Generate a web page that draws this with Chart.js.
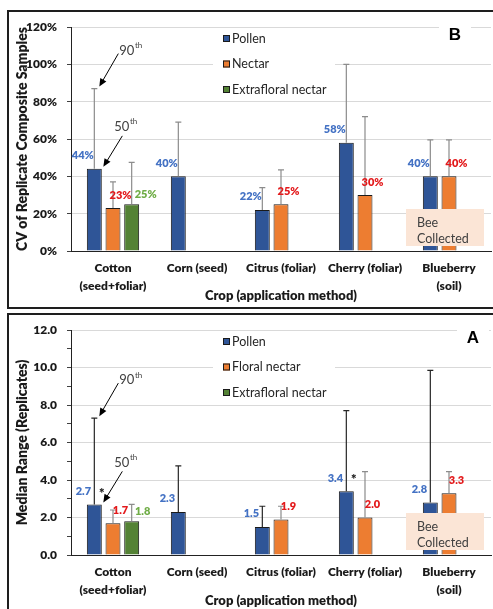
<!DOCTYPE html>
<html lang="en">
<head>
<meta charset="UTF-8">
<title>Replicate variability - pollen and nectar</title>
<style>
  body { margin: 0; background: #fff; width: 493px; height: 609px; overflow: hidden; position: relative; }
  canvas { position: absolute; left: 0; }
  .frame { position: absolute; left: 7px; width: 600px; border: 2px solid #1e1e1e; pointer-events: none; }
</style>
</head>
<body>
<canvas id="cvChart" width="493" height="305" style="top:0"></canvas>
<canvas id="rangeChart" width="493" height="300" style="top:309px"></canvas>
<div class="frame" style="top:10px;height:295px"></div>
<div class="frame" style="top:313px;height:400px"></div>

<script src="https://cdn.jsdelivr.net/npm/chart.js"></script>
<script>
const crops = [['Cotton', '(seed+foliar)'], 'Corn (seed)', 'Citrus (foliar)', 'Cherry (foliar)', ['Blueberry', '(soil)']];

// panel B: CV of replicate composite samples (%), bar = median, whisker = 90th
const cvPollen = [44, 40, 22, 58, 40];
const cvNectar = [23, null, 25, 30, 40];
const cvExtra = [25, null, null, null, null];
const cvPollen90 = [87, 69, 34, 100, 59.5];
const cvNectar90 = [37, null, 43.5, 72, 59.5];
const cvExtra90 = [47.5, null, null, null, null];
const cvTicks = [0, 20, 40, 60, 80, 100, 120];

// panel A: median range of replicates
const rangePollen = [2.7, 2.3, 1.5, 3.4, 2.8];
const rangeNectar = [1.7, null, 1.9, 2.0, 3.3];
const rangeExtra = [1.8, null, null, null, null];
const rangePollen90 = [7.3, 4.75, 2.6, 7.7, 9.85];
const rangeNectar90 = [2.4, null, 2.6, 4.45, 4.45];
const rangeExtra90 = [2.7, null, null, null, null];
const rangeTicks = [0, 2, 4, 6, 8, 10, 12];
const rangeStars = [0, 3]; // pollen bars flagged with *

const POLLEN = '#2F5597', NECTAR = '#ED7D31', EXTRA = '#548235';
const FONT = 'Lato, sans-serif';
const HEAVY = 800;
Chart.defaults.font.family = FONT;
Chart.defaults.color = '#1a1a1a';

function series(label, data, p90, color, labelColor, whisker, dx, dy) {
  return {
    label: label, data: data, p90: p90,
    backgroundColor: color, borderColor: '#1a1a1a', borderWidth: 1,
    labelColor: labelColor, whisker: whisker, labelDx: dx, labelDy: dy,
    categoryPercentage: 0.667, barPercentage: 0.8
  };
}

function arrow(ctx, x1, y1, x2, y2) {
  const a = Math.atan2(y2 - y1, x2 - x1);
  ctx.strokeStyle = '#000'; ctx.fillStyle = '#000'; ctx.lineWidth = 1;
  ctx.beginPath(); ctx.moveTo(x1, y1); ctx.lineTo(x2 - 6 * Math.cos(a), y2 - 6 * Math.sin(a)); ctx.stroke();
  ctx.beginPath();
  ctx.moveTo(x2, y2);
  ctx.lineTo(x2 - 8 * Math.cos(a) + 3.5 * Math.sin(a), y2 - 8 * Math.sin(a) - 3.5 * Math.cos(a));
  ctx.lineTo(x2 - 8 * Math.cos(a) - 3.5 * Math.sin(a), y2 - 8 * Math.sin(a) + 3.5 * Math.cos(a));
  ctx.closePath(); ctx.fill();
}

function ordinal(ctx, num, x, y) {
  ctx.fillStyle = '#404040'; ctx.textAlign = 'left'; ctx.textBaseline = 'middle';
  ctx.font = '13px ' + FONT;
  ctx.fillText(num, x, y);
  const w = ctx.measureText(num).width;
  ctx.font = '8px ' + FONT;
  ctx.fillText('th', x + w + 0.5, y - 5);
}

// whiskers, value labels, legend, panel letter, notes
function extras(panel) {
  return {
    id: 'extras',
    afterDatasetsDraw(chart) {
      const ctx = chart.ctx, y = chart.scales.y, x = chart.scales.x, area = chart.chartArea;
      ctx.save();
      chart.data.datasets.forEach((ds, i) => {
        chart.getDatasetMeta(i).data.forEach((bar, j) => {
          if (ds.data[j] == null) return;
          const top = y.getPixelForValue(ds.p90[j]);
          ctx.strokeStyle = ds.whisker; ctx.lineWidth = 1.2;
          ctx.beginPath();
          ctx.moveTo(bar.x, bar.y); ctx.lineTo(bar.x, top);
          ctx.moveTo(bar.x - 3, top); ctx.lineTo(bar.x + 3, top);
          ctx.stroke();
          ctx.fillStyle = ds.labelColor;
          ctx.font = HEAVY + ' 11px ' + FONT;
          ctx.textAlign = 'center'; ctx.textBaseline = 'middle';
          ctx.fillText(ds.data[j].toFixed(panel.decimals) + panel.suffix, bar.x + ds.labelDx, bar.y + ds.labelDy);
        });
      });

      // legend sitting inside the plot
      ctx.fillStyle = '#fff';
      ctx.fillRect(area.left + 142, area.top + 2, 122, 70);
      chart.data.datasets.forEach((ds, i) => {
        const cy = area.top + 11.5 + i * 25.5;
        ctx.fillStyle = ds.backgroundColor;
        ctx.fillRect(area.left + 152, cy - 3.5, 7, 7);
        ctx.strokeStyle = '#1a1a1a'; ctx.lineWidth = 1;
        ctx.strokeRect(area.left + 152.5, cy - 3, 6, 6);
        ctx.fillStyle = '#262626'; ctx.font = '12.5px ' + FONT;
        ctx.textAlign = 'left'; ctx.textBaseline = 'middle';
        ctx.fillText(ds.label, area.left + 161, cy);
      });

      // panel letter
      const lx = area.right + panel.letterDx;
      ctx.fillStyle = '#fff';
      ctx.fillRect(lx - 16, area.top - 4, 32, 22);
      ctx.fillStyle = '#000'; ctx.font = 'bold 17px "Liberation Sans", Arial, sans-serif';
      ctx.textAlign = 'center'; ctx.textBaseline = 'middle';
      ctx.fillText(panel.letter, lx, area.top + 8);

      // bee collected note over blueberry
      const bx = x.getPixelForValue(4) - 43, by = area.bottom - 42;
      ctx.fillStyle = '#FBE5D6';
      ctx.fillRect(bx, by, 78, 37);
      ctx.fillStyle = '#404040'; ctx.font = '12.5px ' + FONT;
      ctx.textAlign = 'left'; ctx.textBaseline = 'middle';
      ctx.fillText('Bee', bx + 11, by + 14);
      ctx.fillText('Collected', bx + 11, by + 30);

      // percentile call-outs on the cotton pollen bar
      const ds0 = chart.data.datasets[0];
      const b0 = chart.getDatasetMeta(0).data[0];
      const h90 = { x: b0.x + 5, y: y.getPixelForValue(ds0.p90[0]) - 2 };
      const h50 = { x: b0.x + 9, y: b0.y - 2 };
      arrow(ctx, h90.x + 19, h90.y - 33, h90.x, h90.y);
      arrow(ctx, h50.x + 19, h50.y - 31, h50.x, h50.y);
      ordinal(ctx, '90', h90.x + 20, h90.y - 36);
      ordinal(ctx, '50', h50.x + 11, h50.y - 40);

      (panel.stars || []).forEach(j => {
        const b = chart.getDatasetMeta(0).data[j];
        ctx.fillStyle = '#222'; ctx.font = HEAVY + ' 13px ' + FONT;
        ctx.textAlign = 'center'; ctx.textBaseline = 'middle';
        ctx.fillText('*', b.x + 7.5, b.y - 11);
      });
      ctx.restore();
    }
  };
}

function makeChart(id, panel) {
  const ticks = panel.ticks;
  new Chart(document.getElementById(id), {
    type: 'bar',
    data: { labels: crops, datasets: panel.datasets },
    options: {
      responsive: false,
      animation: false,
      devicePixelRatio: 1,
      layout: { padding: { left: 0, right: 2, top: panel.top, bottom: 0 } },
      plugins: { legend: { display: false }, tooltip: { enabled: false } },
      scales: {
        x: {
          grid: { display: true, color: 'transparent', drawTicks: false },
          border: { color: '#222', width: 1 },
          ticks: { font: { size: 12, weight: HEAVY, lineHeight: 1.5 }, padding: 8, maxRotation: 0, autoSkip: false },
          title: { display: true, text: 'Crop (application method)', font: { size: 13, weight: HEAVY }, padding: { top: 0, bottom: panel.xTitlePad } },
          afterFit(s) { s.height = panel.xHeight; }
        },
        y: {
          min: ticks[0],
          max: ticks[ticks.length - 1],
          ticks: {
            stepSize: panel.step,
            font: { size: 12, weight: HEAVY }, padding: 10,
            callback: v => ticks.includes(v) ? v.toFixed(panel.decimals) + panel.suffix : ''
          },
          grid: {
            color: c => ticks.includes(c.tick.value) ? '#d9d9d9' : 'transparent',
            tickColor: '#404040', tickLength: 4, lineWidth: 1
          },
          border: { color: '#222', width: 1 },
          title: { display: true, text: panel.yTitle, font: { size: 14, weight: HEAVY }, padding: { top: 13.6, bottom: 0 } },
          afterFit(s) { s.width = 71; }
        }
      }
    },
    plugins: [extras(panel)]
  });
}

makeChart('cvChart', {
  letter: 'B', letterDx: -36, decimals: 0, suffix: '%', step: 20, ticks: cvTicks,
  top: 27, xHeight: 54, xTitlePad: 1.2,
  yTitle: 'CV of Replicate Composite Samples',
  datasets: [
    series('Pollen', cvPollen, cvPollen90, POLLEN, '#4472C4', '#8c8c8c', -11.5, -13),
    series('Nectar', cvNectar, cvNectar90, NECTAR, '#E31A1C', '#8c8c8c', 7.5, -13),
    series('Extrafloral nectar', cvExtra, cvExtra90, EXTRA, '#70AD47', '#8c8c8c', 14, -10)
  ]
});

makeChart('rangeChart', {
  letter: 'A', letterDx: -18, decimals: 1, suffix: '', step: 1, ticks: rangeTicks,
  top: 21, xHeight: 54, xTitlePad: 0.2, stars: rangeStars,
  yTitle: 'Median Range (Replicates)',
  datasets: [
    series('Pollen', rangePollen, rangePollen90, POLLEN, '#4472C4', '#262626', -11, -13),
    series('Floral nectar', rangeNectar, rangeNectar90, NECTAR, '#E31A1C', '#8c8c8c', 7.5, -13),
    series('Extrafloral nectar', rangeExtra, rangeExtra90, EXTRA, '#70AD47', '#8c8c8c', 11, -10)
  ]
});
</script>
</body>
</html>
